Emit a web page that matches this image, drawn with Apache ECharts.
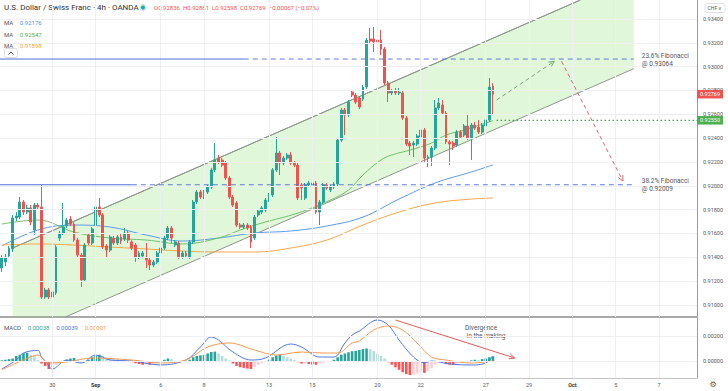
<!DOCTYPE html>
<html><head><meta charset="utf-8">
<script src="https://cdn.jsdelivr.net/npm/echarts@6/dist/echarts.min.js"></script>
<style>html,body{margin:0;padding:0;background:#fff}#c{width:728px;height:391px}</style>
</head><body><div id="c"></div>
<script>
// ---------- DATA ----------
const slotCount = 193; // 4h slots incl. empty future area
const tickIdx = [14, 26, 44, 56, 74, 86, 104, 116, 134, 146, 158, 170, 182];
const tickText = ['30', 'Sep', '6', '8', '13', '15', '20', '22', '27', '29', 'Oct', '5', '7'];
const monthLabels = ['Sep', 'Oct'];
const priceTicks = [0.910, 0.912, 0.914, 0.916, 0.918, 0.920, 0.922, 0.924, 0.926, 0.928, 0.930, 0.932, 0.934];
const macdTicks = [0, 0.002];

// [open, close, low, high]
const ohlc = [
[0.91310,0.91394,0.91277,0.91419],[0.91361,0.91402,0.91327,0.91428],[0.91411,0.91478,0.91394,0.91495],[0.91470,0.91730,0.91445,0.91755],
[0.91730,0.91747,0.91705,0.91780],[0.91738,0.91864,0.91721,0.91906],[0.91864,0.91780,0.91755,0.91881],[0.91780,0.91814,0.91763,0.91839],
[0.91814,0.91696,0.91671,0.91839],[0.91629,0.91839,0.91587,0.91856],[0.91839,0.91822,0.91805,0.91856],[0.91822,0.91067,0.91050,0.92007],
[0.91067,0.91126,0.91050,0.91143],[0.91126,0.91067,0.91050,0.91143],[0.91067,0.91109,0.91017,0.91126],[0.91101,0.91486,0.91084,0.91503],
[0.91562,0.91604,0.91537,0.91621],[0.91604,0.91654,0.91587,0.91856],[0.91663,0.91713,0.91646,0.91730],[0.91721,0.91679,0.91663,0.91747],
[0.91679,0.91545,0.91529,0.91696],[0.91545,0.91419,0.91402,0.91562],[0.91419,0.91210,0.91151,0.91436],[0.91210,0.91503,0.91193,0.91520],
[0.91587,0.91520,0.91503,0.91604],[0.91520,0.91638,0.91503,0.91654],[0.91671,0.91822,0.91654,0.91839],[0.91822,0.91755,0.91738,0.91898],
[0.91755,0.91486,0.91470,0.91772],[0.91495,0.91461,0.91394,0.91512],[0.91461,0.91571,0.91445,0.91587],[0.91562,0.91520,0.91503,0.91579],
[0.91520,0.91571,0.91503,0.91587],[0.91571,0.91537,0.91512,0.91596],[0.91554,0.91604,0.91537,0.91646],[0.91604,0.91545,0.91520,0.91621],
[0.91529,0.91478,0.91461,0.91545],[0.91503,0.91402,0.91361,0.91520],[0.91402,0.91436,0.91386,0.91453],[0.91411,0.91436,0.91394,0.91453],
[0.91402,0.91377,0.91310,0.91520],[0.91377,0.91335,0.91294,0.91394],[0.91335,0.91361,0.91319,0.91377],[0.91361,0.91436,0.91344,0.91453],
[0.91436,0.91478,0.91419,0.91495],[0.91478,0.91562,0.91461,0.91579],[0.91562,0.91646,0.91545,0.91663],[0.91646,0.91562,0.91520,0.91663],
[0.91503,0.91529,0.91486,0.91545],[0.91520,0.91402,0.91386,0.91537],[0.91402,0.91436,0.91386,0.91453],[0.91436,0.91411,0.91394,0.91453],
[0.91402,0.91529,0.91386,0.91545],[0.91529,0.91864,0.91512,0.91881],[0.91864,0.91948,0.91847,0.91965],[0.91948,0.91906,0.91889,0.91965],
[0.91906,0.91948,0.91889,0.91965],[0.91948,0.91990,0.91931,0.92007],[0.91990,0.92133,0.91973,0.92150],[0.92133,0.92217,0.92116,0.92359],
[0.92233,0.92200,0.92183,0.92259],[0.92217,0.92174,0.92158,0.92233],[0.92191,0.92066,0.92049,0.92208],[0.92066,0.91906,0.91889,0.92083],
[0.91906,0.91839,0.91822,0.91923],[0.91856,0.91671,0.91654,0.91872],[0.91671,0.91654,0.91638,0.91688],[0.91654,0.91671,0.91638,0.91688],
[0.91671,0.91646,0.91629,0.91688],[0.91654,0.91529,0.91478,0.91671],[0.91562,0.91738,0.91545,0.91755],[0.91755,0.91789,0.91738,0.91805],
[0.91780,0.91814,0.91763,0.91831],[0.91797,0.91881,0.91780,0.91898],[0.91881,0.91923,0.91864,0.91940],[0.91923,0.92133,0.91906,0.92150],
[0.92133,0.92275,0.92116,0.92410],[0.92275,0.92191,0.92091,0.92292],[0.92191,0.92233,0.92174,0.92250],[0.92233,0.92259,0.92217,0.92275],
[0.92259,0.92191,0.92174,0.92284],[0.92191,0.92174,0.92158,0.92208],[0.92174,0.91898,0.91881,0.92191],[0.92007,0.91982,0.91881,0.92024],
[0.91898,0.92007,0.91881,0.92024],[0.92007,0.92024,0.91990,0.92041],[0.92007,0.92024,0.91990,0.92049],[0.92024,0.91780,0.91763,0.92041],
[0.91780,0.91864,0.91671,0.91881],[0.91864,0.92007,0.91847,0.92024],[0.92007,0.91982,0.91965,0.92024],[0.91965,0.91990,0.91948,0.92007],
[0.91990,0.92015,0.91973,0.92032],[0.92015,0.92384,0.91998,0.92401],[0.92384,0.92636,0.92368,0.92653],[0.92636,0.92594,0.92426,0.92653],
[0.92594,0.92703,0.92577,0.92720],[0.92787,0.92762,0.92745,0.92804],[0.92762,0.92703,0.92686,0.92779],[0.92737,0.92661,0.92644,0.92754],
[0.92728,0.92829,0.92712,0.92846],[0.92829,0.93223,0.92812,0.93240],[0.93232,0.93215,0.93198,0.93324],[0.93232,0.93207,0.93123,0.93332],
[0.93223,0.93207,0.93181,0.93332],[0.93223,0.93148,0.93098,0.93307],[0.93148,0.92863,0.92846,0.93165],[0.92863,0.92779,0.92703,0.92880],
[0.92779,0.92795,0.92762,0.92812],[0.92795,0.92779,0.92762,0.92821],[0.92779,0.92787,0.92762,0.92821],[0.92779,0.92569,0.92552,0.92795],
[0.92569,0.92351,0.92334,0.92586],[0.92359,0.92334,0.92259,0.92376],[0.92342,0.92359,0.92242,0.92376],[0.92351,0.92418,0.92334,0.92435],
[0.92410,0.92468,0.92393,0.92485],[0.92468,0.92233,0.92200,0.92485],[0.92233,0.92242,0.92158,0.92259],[0.92242,0.92317,0.92166,0.92334],
[0.92317,0.92653,0.92300,0.92720],[0.92653,0.92695,0.92636,0.92737],[0.92678,0.92611,0.92594,0.92720],[0.92611,0.92368,0.92351,0.92628],
[0.92368,0.92351,0.92174,0.92384],[0.92359,0.92334,0.92300,0.92376],[0.92342,0.92451,0.92326,0.92468],[0.92451,0.92410,0.92393,0.92468],
[0.92426,0.92502,0.92410,0.92519],[0.92502,0.92401,0.92384,0.92594],[0.92401,0.92510,0.92217,0.92527],[0.92510,0.92485,0.92468,0.92535],
[0.92493,0.92451,0.92435,0.92552],[0.92451,0.92510,0.92435,0.92527],[0.92502,0.92552,0.92485,0.92569],[0.92552,0.92829,0.92535,0.92905],
[0.92836,0.92769,0.92598,0.92861]
];

// moving averages: [slot, value]
const maBlue = [[0,0.91495],[10,0.91629],[20,0.91671],[30,0.91654],[40,0.91587],[50,0.91537],[60,0.91562],[70,0.91604],[80,0.91621],[90,0.91663],[100,0.91738],[110,0.91889],[120,0.92024],[130,0.92116],[136,0.92176]];
const maGreen = [[0,0.91679],[10,0.91713],[20,0.91612],[30,0.91562],[40,0.91545],[50,0.91512],[60,0.91562],[66,0.91629],[72,0.91688],[82,0.91772],[91,0.91881],[96,0.91965],[100,0.92091],[105,0.92217],[108,0.92259],[113,0.92300],[119,0.92359],[123,0.92426],[128,0.92468],[136,0.92547]];
const maOrange = [[0,0.91503],[10,0.91512],[20,0.91503],[30,0.91486],[40,0.91470],[50,0.91453],[60,0.91445],[70,0.91445],[80,0.91478],[90,0.91545],[100,0.91671],[110,0.91780],[120,0.91856],[130,0.91889],[136,0.91898]];

// MACD
const macdHist = [
0.00005,0.0001,0.00015,0.0002,0.0004,0.0005,0.00062,0.00066,0.0005,0.0004,
0.0001,-0.0002,-0.0004,-0.00064,-0.0005,-0.0003,-0.0002,-0.0001,0.0001,0.0002,
0.00024,0.0001,-0.0001,-0.00005,0.0001,0.0003,0.0004,0.0005,0.0004,0.0003,
0.00025,0.0002,0.00015,0.0001,0.00005,-0.00005,-0.0001,-0.00018,-0.00024,-0.0003,
-0.00028,-0.0003,-0.00025,-0.0002,-0.0001,0.0001,0.0002,0.00015,-0.00005,-0.0001,
-0.00008,-0.00005,0.0001,0.0003,0.0004,0.00045,0.0005,0.0006,0.00072,0.00075,
0.0006,0.0004,0.0002,0.00005,-0.0002,-0.0004,-0.0005,-0.00055,-0.0006,-0.00064,
-0.0005,-0.0003,-0.0002,-0.0001,0.0001,0.0003,0.00045,0.00048,0.0004,0.0003,
0.0002,0.0001,-0.0001,-0.0002,-0.0002,-0.00025,-0.00028,-0.0003,-0.0002,-0.00015,
-0.0001,-0.00005,0.0001,0.0003,0.0005,0.0006,0.0007,0.00078,0.00082,0.00088,
0.00096,0.001,0.00095,0.0008,0.0006,0.0004,0.0002,-0.0001,-0.0003,-0.0005,
-0.0007,-0.0009,-0.00105,-0.00112,-0.0011,-0.001,-0.0009,-0.00095,-0.0008,-0.0006,
-0.0003,-0.0001,-0.0001,-0.00025,-0.0003,-0.00032,-0.0002,-0.00015,-0.0001,-0.00005,
0.00005,0.0001,0.00008,0.00015,0.0002,0.0003,0.00038
];
const macdLine = [[0,-0.00064],[4,0.00008],[6,0.00064],[10,0.00085],[11,0.0003],[12,0.00002],[14,-0.00064],[18,0.00008],[22,-0.00016],[26,0.00048],[30,0.00008],[36,0],[44,-0.00032],[51,0.00008],[55,0.00112],[58,0.00192],[60,0.00168],[64,0.00072],[69,0.00008],[73,0.00024],[80,0.00136],[83,0.00112],[88,0.00032],[92,0.00032],[95,0.00144],[97,0.00208],[99,0.0024],[104,0.00328],[107,0.00288],[110,0.00168],[114,0.00032],[117,-0.00016],[119,0],[124,-0.00024],[130,-0.00032],[134,-0.00016],[136,0.00039]];
const signalLine = [[0,-0.0007],[6,0.00008],[10,0.00048],[13,-0.00016],[18,-0.00008],[25,0.00024],[36,0.00008],[44,-0.00016],[51,0.00008],[57,0.00112],[63,0.00144],[70,0.00088],[76,0.00048],[83,0.00072],[89,0.00064],[93,0.00064],[97,0.00144],[99,0.0016],[103,0.00248],[107,0.0028],[111,0.00248],[115,0.00144],[119,0.00032],[123,0.00008],[130,-0.00016],[136,0.00001]];

// drawings
const fibLevels = [0.93064, 0.92009];
const fibNames = ['23.6% Fibonacci', '38.2% Fibonacci'];
const fibSolidEnd = [67, 36];
const fibEnd = 175;
const supportLevel = 0.92550, supportStart = 137;
const lastClose = 0.92769;
const channelUpper = [[3, 0.91478], [175, 0.93755]];
const channelLower = [[3, 0.90706], [175, 0.92983]];
const arrowUp = [[137, 0.92720], [153, 0.93045]];
const arrowDown = [[155, 0.93045], [172, 0.92040]];
const macdArrow = [[109, 0.00328], [142, 0.00024]];

// ---------- CHART ----------
const FONT = 'Roboto, "Liberation Sans", sans-serif';
const FIB_BLUE = '#4f6fd6';
const cats = Array.from({length: slotCount}, (_, i) => 'c' + i);

function inter(a, b, k, v) { const t = (v - a[k]) / (b[k] - a[k]); return [a[0] + t * (b[0] - a[0]), a[1] + t * (b[1] - a[1])]; }
function clipPoly(pts, r) {
  const edges = [
    [p => p[0] >= r.x, (a, b) => inter(a, b, 0, r.x)],
    [p => p[0] <= r.x + r.width, (a, b) => inter(a, b, 0, r.x + r.width)],
    [p => p[1] >= r.y, (a, b) => inter(a, b, 1, r.y)],
    [p => p[1] <= r.y + r.height, (a, b) => inter(a, b, 1, r.y + r.height)]
  ];
  let out = pts;
  for (const [inside, cut] of edges) {
    const inp = out; out = [];
    for (let i = 0; i < inp.length; i++) {
      const cur = inp[i], prev = inp[(i + inp.length - 1) % inp.length];
      if (inside(cur)) { if (!inside(prev)) out.push(cut(prev, cur)); out.push(cur); }
      else if (inside(prev)) out.push(cut(prev, cur));
    }
    if (!out.length) break;
  }
  return out;
}
function arrowRender(pts, color, dash) {
  return function (params, api) {
    const a = api.coord(pts[0]), b = api.coord(pts[1]);
    const ang = Math.atan2(b[1] - a[1], b[0] - a[0]);
    const L = 6, w = 0.45;
    const h1 = [b[0] - L * Math.cos(ang - w), b[1] - L * Math.sin(ang - w)];
    const h2 = [b[0] - L * Math.cos(ang + w), b[1] - L * Math.sin(ang + w)];
    return {type: 'group', children: [
      {type: 'line', shape: {x1: a[0], y1: a[1], x2: b[0], y2: b[1]}, style: {stroke: color, lineWidth: 1, lineDash: dash}},
      {type: 'polyline', shape: {points: [h1, b, h2]}, style: {stroke: color, lineWidth: 1, fill: null}}
    ]};
  };
}
const histData = macdHist.map((v, i) => {
  const prev = i > 0 ? macdHist[i - 1] : 0;
  let c;
  if (v >= 0) c = v >= prev ? '#26a69a' : '#b2dfdb';
  else c = v < prev ? '#ff5252' : '#ffcdd2';
  return {value: v, itemStyle: {color: c}};
});
const gridLineStyle = {color: '#eef0f4', width: 1, type: 'solid'};

function levelsRender(params, api) {
  const r = params.coordSys;
  const right = r.x + r.width;
  const kids = [];
  fibLevels.forEach((v, k) => {
    const a = api.coord([0, v]), m = api.coord([fibSolidEnd[k], v]), b = api.coord([fibEnd, v]);
    kids.push({type: 'line', shape: {x1: r.x, y1: a[1], x2: m[0], y2: m[1]}, style: {stroke: FIB_BLUE, lineWidth: 1}});
    kids.push({type: 'line', shape: {x1: m[0], y1: m[1], x2: b[0], y2: b[1]}, style: {stroke: FIB_BLUE, lineWidth: 1, lineDash: [5, 4], opacity: 0.9}});
    kids.push({type: 'text', x: b[0] + 8, y: b[1] + 0.5, style: {text: fibNames[k] + '\n@ ' + v.toFixed(5), fill: '#555', fontSize: 6.5, lineHeight: 8, fontFamily: FONT, verticalAlign: 'middle', align: 'left'}});
  });
  const s = api.coord([supportStart, supportLevel]);
  kids.push({type: 'line', shape: {x1: s[0], y1: s[1], x2: right, y2: s[1]}, style: {stroke: '#43a047', lineWidth: 1.3, lineDash: [1.5, 2.5]}});
  kids.push({type: 'text', x: right, y: s[1], style: {text: supportLevel.toFixed(5), fill: '#fff', backgroundColor: '#4caf50', padding: [1.5, 3, 1, 3], fontSize: 5.5, fontFamily: FONT, verticalAlign: 'middle', align: 'left'}});
  const c = api.coord([0, lastClose]);
  kids.push({type: 'text', x: right, y: c[1], style: {text: lastClose.toFixed(5), fill: '#fff', backgroundColor: '#ef5350', padding: [1.5, 3, 1, 3], fontSize: 5.5, fontFamily: FONT, verticalAlign: 'middle', align: 'left'}});
  return {type: 'group', children: kids};
}

const chart = echarts.init(document.getElementById('c'), null, {renderer: 'svg', width: 728, height: 391});
chart.setOption({
  animation: false,
  backgroundColor: '#fff',
  textStyle: {fontFamily: FONT},
  grid: [
    {left: 0, right: 31, top: 0, height: 317},
    {left: 0, right: 31, top: 318, height: 60}
  ],
  xAxis: [
    {type: 'category', gridIndex: 0, data: cats, boundaryGap: true,
     axisLine: {show: true, onZero: false, lineStyle: {color: '#a9a9a9', width: 2}},
     axisTick: {show: false}, axisLabel: {show: false}, splitLine: {show: false}},
    {type: 'category', gridIndex: 1, data: cats, boundaryGap: true,
     axisLine: {show: true, onZero: false, lineStyle: {color: '#c4c4c4', width: 1}},
     axisTick: {show: false}, splitLine: {show: false},
     axisLabel: {show: true, interval: (i) => tickIdx.includes(i), margin: 4, fontSize: 5.5, color: '#555', fontFamily: FONT,
       formatter: (v, i) => { const k = tickIdx.indexOf(i); if (k < 0) return ''; const t = tickText[k]; return monthLabels.includes(t) ? '{b|' + t + '}' : t; },
       rich: {b: {fontWeight: 'bold', fontSize: 5.5, color: '#333', fontFamily: FONT}}}}
  ],
  yAxis: [
    {type: 'value', gridIndex: 0, position: 'right', min: 0.908993, max: 0.935594, scale: true,
     splitLine: {show: false}, axisLine: {show: true, lineStyle: {color: '#9c9c9c'}},
     axisTick: {show: false, customValues: priceTicks},
     axisLabel: {customValues: priceTicks, formatter: v => v.toFixed(5), fontSize: 5.5, color: '#555', margin: 6, fontFamily: FONT}},
    {type: 'value', gridIndex: 1, position: 'right', min: -0.00136, max: 0.00344,
     splitLine: {show: false}, axisLine: {show: true, lineStyle: {color: '#9c9c9c'}},
     axisTick: {show: false, customValues: macdTicks},
     axisLabel: {customValues: macdTicks, formatter: v => v.toFixed(5), fontSize: 5.5, color: '#555', margin: 6, fontFamily: FONT}}
  ],
  series: [
    // gridlines (main)
    {type: 'line', xAxisIndex: 0, yAxisIndex: 0, data: [], z: 0, silent: true,
     markLine: {symbol: 'none', silent: true, animation: false, precision: 6, label: {show: false}, lineStyle: gridLineStyle,
       data: priceTicks.map(v => ({yAxis: v})).concat(tickIdx.map(i => ({xAxis: i})))}},
    // gridlines (macd)
    {type: 'line', xAxisIndex: 1, yAxisIndex: 1, data: [], z: 0, silent: true,
     markLine: {symbol: 'none', silent: true, animation: false, precision: 6, label: {show: false}, lineStyle: gridLineStyle,
       data: macdTicks.map(v => ({yAxis: v})).concat(tickIdx.map(i => ({xAxis: i})))}},
    // parallel channel
    {type: 'custom', xAxisIndex: 0, yAxisIndex: 0, z: 1, silent: true, data: [[0, 0.92]],
     renderItem: (params, api) => {
       const r = params.coordSys;
       const u0 = api.coord(channelUpper[0]), u1 = api.coord(channelUpper[1]);
       const l0 = api.coord(channelLower[0]), l1 = api.coord(channelLower[1]);
       const poly = clipPoly([u0, u1, l1, l0], r);
       const up = clipPoly([u0, u1], r), lo = clipPoly([l0, l1], r);
       return {type: 'group', children: [
         {type: 'polygon', shape: {points: poly}, style: {fill: 'rgba(130,220,100,0.24)'}},
         {type: 'polyline', shape: {points: up}, style: {stroke: '#8d978d', lineWidth: 1, fill: null}},
         {type: 'polyline', shape: {points: lo}, style: {stroke: '#8d978d', lineWidth: 1, fill: null}}
       ]};
     }},
    // moving averages
    {type: 'line', name: 'MA blue', xAxisIndex: 0, yAxisIndex: 0, data: maBlue, smooth: 0.4, showSymbol: false, z: 2, silent: true,
     lineStyle: {color: '#5b9be8', width: 1}},
    {type: 'line', name: 'MA green', xAxisIndex: 0, yAxisIndex: 0, data: maGreen, smooth: 0.4, showSymbol: false, z: 2, silent: true,
     lineStyle: {color: '#74bf6c', width: 1}},
    {type: 'line', name: 'MA orange', xAxisIndex: 0, yAxisIndex: 0, data: maOrange, smooth: 0.4, showSymbol: false, z: 2, silent: true,
     lineStyle: {color: '#f5a84a', width: 1}},
    // candles
    {type: 'candlestick', xAxisIndex: 0, yAxisIndex: 0, data: ohlc, barWidth: '66%', z: 3, silent: true,
     itemStyle: {color: '#26a69a', color0: '#ef5350', borderColor: '#26a69a', borderColor0: '#ef5350', borderWidth: 1}},
    // fib / support levels and price boxes
    {type: 'custom', xAxisIndex: 0, yAxisIndex: 0, z: 6, silent: true, data: [[0, 0.92]], renderItem: levelsRender},
    // projection arrows
    {type: 'custom', xAxisIndex: 0, yAxisIndex: 0, z: 5, silent: true, data: [[0, 0.92]],
     renderItem: arrowRender(arrowUp, '#79a879', [4, 3])},
    {type: 'custom', xAxisIndex: 0, yAxisIndex: 0, z: 5, silent: true, data: [[0, 0.92]],
     renderItem: arrowRender(arrowDown, '#dd6a6a', [4, 3])},
    // MACD
    {type: 'bar', xAxisIndex: 1, yAxisIndex: 1, data: histData, barWidth: '72%', z: 2, silent: true},
    {type: 'line', xAxisIndex: 1, yAxisIndex: 1, data: macdLine, smooth: 0.35, showSymbol: false, z: 3, silent: true,
     lineStyle: {color: '#4f78e6', width: 1}},
    {type: 'line', xAxisIndex: 1, yAxisIndex: 1, data: signalLine, smooth: 0.35, showSymbol: false, z: 3, silent: true,
     lineStyle: {color: '#f39a4f', width: 1}},
    {type: 'custom', xAxisIndex: 1, yAxisIndex: 1, z: 5, silent: true, data: [[0, 0]],
     renderItem: arrowRender(macdArrow, '#e15a5a', null)}
  ],
  graphic: [
    {type: 'text', x: 4, y: 3, silent: true, style: {text: 'U.S. Dollar / Swiss Franc · 4h · OANDA', fontSize: 8, fontFamily: FONT, fill: '#333'}},
    {type: 'circle', shape: {cx: 143, cy: 7.5, r: 3.6}, silent: true, style: {fill: 'rgba(38,166,154,0.25)'}},
    {type: 'circle', shape: {cx: 143, cy: 7.5, r: 2}, silent: true, style: {fill: '#26a69a'}},
    {type: 'text', x: 154, y: 4.5, silent: true, style: {text: 'O0.92836  H0.92861  L0.92598  C0.92769  −0.00067 (−0.07%)', fontSize: 6, fontFamily: FONT, fill: '#ef5350'}},
    {type: 'text', x: 4, y: 16.5, silent: true, style: {text: '{l|MA}  {v|0.92176}', rich: {l: {fill: '#555', fontSize: 6, fontFamily: FONT}, v: {fill: '#4d8fe0', fontSize: 6, fontFamily: FONT}}}},
    {type: 'text', x: 4, y: 28, silent: true, style: {text: '{l|MA}  {v|0.92547}', rich: {l: {fill: '#555', fontSize: 6, fontFamily: FONT}, v: {fill: '#4caf50', fontSize: 6, fontFamily: FONT}}}},
    {type: 'text', x: 4, y: 39.5, silent: true, style: {text: '{l|MA}  {v|0.91898}', rich: {l: {fill: '#555', fontSize: 6, fontFamily: FONT}, v: {fill: '#f5a623', fontSize: 6, fontFamily: FONT}}}},
    {type: 'rect', shape: {x: 4.5, y: 48.5, width: 13, height: 9, r: 2}, silent: true, style: {fill: '#fff', stroke: '#dcdcdc', lineWidth: 1}},
    {type: 'polyline', shape: {points: [[8.5, 54.5], [11, 52], [13.5, 54.5]]}, silent: true, style: {stroke: '#444', lineWidth: 1, fill: null}},
    {type: 'text', x: 4, y: 321, silent: true, style: {text: '{l|MACD}  {a|0.00038}  {b|0.00039}  {c|0.00001}', rich: {
      l: {fill: '#555', fontSize: 6, fontFamily: FONT}, a: {fill: '#26a69a', fontSize: 6, fontFamily: FONT},
      b: {fill: '#4f78e6', fontSize: 6, fontFamily: FONT}, c: {fill: '#f39a4f', fontSize: 6, fontFamily: FONT}}}},
    {type: 'text', x: 465, y: 324.5, silent: true, style: {text: 'Divergence\n in the making', fontSize: 6.5, lineHeight: 7.5, fontFamily: FONT, fill: '#555'}},
    {type: 'rect', shape: {x: 705, y: 3.5, width: 20, height: 9, r: 2}, silent: true, style: {fill: '#fff', stroke: '#e0e0e0', lineWidth: 1}},
    {type: 'text', x: 715, y: 8, silent: true, style: {text: 'CHF ∨', fontSize: 5, fontFamily: FONT, fill: '#555', align: 'center', verticalAlign: 'middle'}},
    {type: 'text', x: 713, y: 384.5, silent: true, style: {text: '⚙', fontSize: 8, fontFamily: '"DejaVu Sans"', fill: '#555', align: 'center', verticalAlign: 'middle'}}
  ]
});
</script>
</body></html>
